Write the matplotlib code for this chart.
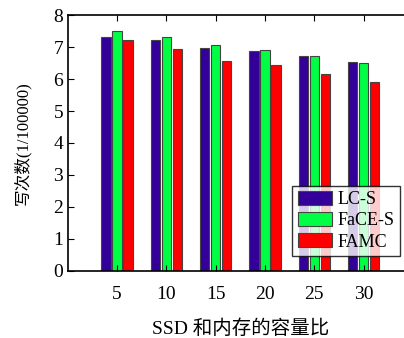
import numpy as np
import matplotlib.pyplot as plt

plt.rcParams['font.family'] = ['Liberation Serif', 'Noto Sans CJK SC']

ratios = ['5', '10', '15', '20', '25', '30']
lc_s = [7.32, 7.21, 6.97, 6.88, 6.72, 6.55]
face_s = [7.50, 7.31, 7.07, 6.91, 6.72, 6.50]
famc = [7.21, 6.94, 6.56, 6.43, 6.16, 5.90]

x = np.arange(1, len(ratios) + 1)
w = 0.19
step = 0.223

fig = plt.figure(figsize=(4.04, 3.38), dpi=100)
ax = fig.add_axes([0.168, 0.199, 0.854, 0.756])

ax.bar(x - step, lc_s, w, color='#330099', edgecolor='#444444', linewidth=0.8, label='LC-S')
ax.bar(x, face_s, w, color='#00ff44', edgecolor='#444444', linewidth=0.8, label='FaCE-S')
ax.bar(x + step, famc, w, color='#ff0000', edgecolor='#444444', linewidth=0.8, label='FAMC')

ax.set_xlim(0, 7)
ax.set_ylim(0, 8)
ax.set_xticks(x)
ax.set_xticklabels(ratios)
ax.set_yticks(range(0, 9))
ax.tick_params(axis='both', direction='in', labelsize=14, length=4, width=0.8)
ax.tick_params(axis='x', top=True, pad=11)
for s in ax.spines.values():
    s.set_linewidth(1.2)

ax.set_xlabel('SSD 和内存的容量比', fontsize=14, labelpad=12)
ax.set_ylabel('写次数(1/100000)', fontsize=12, labelpad=16)

leg = ax.legend(loc='lower right', bbox_to_anchor=(0.962, 0.058), fontsize=13,
                frameon=True, fancybox=False, edgecolor='black',
                handlelength=1.9, handleheight=0.85, handletextpad=0.3,
                borderpad=0.3, labelspacing=0.2, borderaxespad=0)
leg.get_frame().set_linewidth(1.0)

fig.savefig('out.png', dpi=100)
